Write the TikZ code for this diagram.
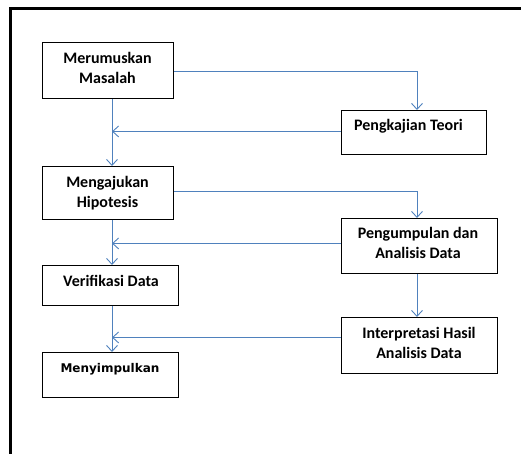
\documentclass[tikz,border=0pt]{standalone}
\usepackage{fontspec}
\setmainfont{Carlito}
\newfontfamily\dvsans{DejaVu Sans}
\usetikzlibrary{arrows.meta}
\definecolor{flowblue}{HTML}{4F81BD}
% strut fixing line height/depth so that baselines are 20pt apart
\newcommand\lnstrut{\rule[-6pt]{0pt}{20pt}}
\tikzset{
  stepbox/.style={draw=black, line width=0.9pt, inner sep=0pt, anchor=north west},
  steptext/.style={inner sep=0pt, anchor=north, align=center,
    font=\fontsize{16}{20}\selectfont\bfseries},
  flow/.style={draw=flowblue, line width=0.9pt,
    -{Straight Barb[length=6pt,width=11pt,line width=0.9pt]}},
}
\begin{document}
\begin{tikzpicture}[x=1pt,y=-1pt]
  \useasboundingbox (0,0) rectangle (521,454);
  % outer frame (top and left edges)
  \draw[line width=3pt, line cap=rect] (521,8.5) -- (10.5,8.5) -- (10.5,456);

  % boxes
  \node[stepbox, minimum width=131pt, minimum height=56pt] (m1) at (42,42) {};
  \node[stepbox, minimum width=145pt, minimum height=44pt] (pk) at (341,110) {};
  \node[stepbox, minimum width=131pt, minimum height=53pt] (m2) at (42,166) {};
  \node[stepbox, minimum width=156pt, minimum height=55pt] (pu) at (341,218) {};
  \node[stepbox, minimum width=136pt, minimum height=40pt] (vd) at (42,265) {};
  \node[stepbox, minimum width=156pt, minimum height=56pt] (ip) at (341,317) {};
  \node[stepbox, minimum width=136pt, minimum height=45pt] (ms) at (42,352) {};

  % labels
  \node[steptext] (m1t) at (107.5,49.3) {\lnstrut Merumuskan\\\lnstrut Masalah};
  \node[steptext] (pkt) at (408.5,116) {\lnstrut Pengkajian Teori};
  \node[steptext] (m2t) at (107.5,173.3) {\lnstrut Mengajukan\\\lnstrut Hipotesis};
  \node[steptext] (put) at (418,224) {\lnstrut Pengumpulan dan\\\lnstrut Analisis Data};
  \node[steptext] (vdt) at (111,272.7) {\lnstrut Verifikasi Data};
  \node[steptext] (ipt) at (419,324.3) {\lnstrut Interpretasi Hasil\\\lnstrut Analisis Data};
  \node[steptext, font=\dvsans\fontsize{12}{20}\selectfont\bfseries] (mst) at (110,358.5) {\lnstrut Menyimpulkan};

  % trunk (left column) and branch (right column) lines
  \coordinate (trunk) at (112,0);
  \coordinate (branch) at (417,0);

  % main column
  \draw[flow] (trunk |- m1.south) -- (trunk |- m2.north);
  \draw[flow] (trunk |- m2.south) -- (trunk |- vd.north);
  \draw[flow] (trunk |- vd.south) -- (trunk |- ms.north);

  % out to the right column
  \coordinate (m1r) at ([yshift=-1pt]m1.east);
  \coordinate (m2r) at ([yshift=1.5pt]m2.east);
  \draw[flow] (m1r) -| (branch |- pk.north);
  \draw[flow] (m2r) -| (branch |- pu.north);
  \draw[flow] (branch |- pu.south) -- (branch |- ip.north);

  % back to the main column
  \coordinate (pkl) at ([yshift=1pt]pk.west);
  \coordinate (pul) at ([yshift=2.5pt]pu.west);
  \coordinate (ipl) at ([yshift=8pt]ip.west);
  \draw[flow] (pkl) -- (trunk |- pkl);
  \draw[flow] (pul) -- (trunk |- pul);
  \draw[flow] (ipl) -- (trunk |- ipl);
\end{tikzpicture}
\end{document}
